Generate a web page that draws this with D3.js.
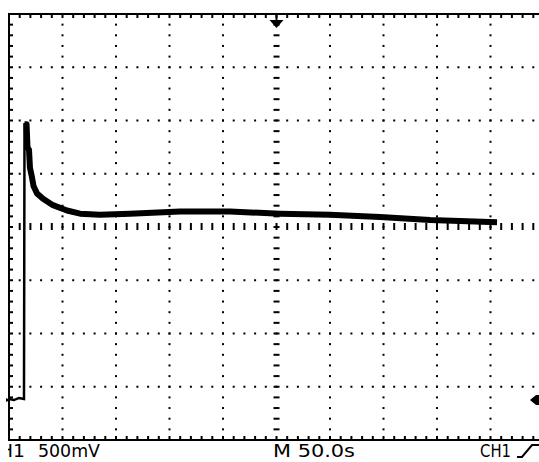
<!DOCTYPE html>
<html>
<head>
<meta charset="utf-8">
<script src="https://cdn.jsdelivr.net/npm/d3@7"></script>
<style>
html,body{margin:0;padding:0;background:#fff;}
svg{display:block;}
text{font-family:"DejaVu Sans Condensed","DejaVu Sans",sans-serif;fill:#000;}
</style>
</head>
<body>
<svg id="chart" width="539" height="462"></svg>
<script>
// ---- data ----
const timeS  = [0, 4.7, 9.3, 14.0, 14.5, 16.4, 17.3, 18.7, 19.6, 21.5, 22.9, 26.2, 31.8, 41.1, 54.2, 66.4, 85.0, 113.1, 159.8, 206.5, 253.3, 300.0, 346.7, 393.5, 456.1];
const ch1V   = [0.01, 0.0, 0.02, 0.01, 2.59, 2.59, 2.37, 2.35, 2.18, 2.09, 2.01, 1.94, 1.89, 1.83, 1.78, 1.75, 1.74, 1.75, 1.77, 1.77, 1.75, 1.74, 1.72, 1.69, 1.67];
const timeDomain = [0, 500];      // 10 div x 50.0 s
const voltDomain = [-0.375, 3.625]; // 8 div x 500 mV
const channelLabel = "CH1";
const voltsLabel = "500mV";
const timeLabel = "M 50.0s";
const triggerLabel = "CH1";
const triggerLevelV = 0.0;
const triggerTimeS = 250;

// ---- layout ----
const svg = d3.select("#chart");
const x = d3.scaleLinear().domain(timeDomain).range([9, 544]);
const y = d3.scaleLinear().domain(voltDomain).range([440, 14]);

const xMajor = d3.range(0, 501, 50);
const xMinor = d3.range(0, 501, 10);
const yMajor = d3.range(0, 9).map(i => voltDomain[0] + i * 0.5);
const yMinor = d3.range(0, 41).map(i => voltDomain[0] + i * 0.1);
const xCenter = 250, yCenter = voltDomain[0] + 2.0;

const g = svg.append("g");

// dotted grid
xMajor.filter(t => t > 0 && t < 500 && t !== xCenter).forEach(t => {
  g.selectAll(null).data(yMinor).enter().append("rect")
    .attr("x", x(t) - 1).attr("y", v => y(v) - 1).attr("width", 2).attr("height", 2).attr("fill", "#000");
});
yMajor.filter((v, i) => i > 0 && i < 8 && i !== 4).forEach(v => {
  g.selectAll(null).data(xMinor).enter().append("rect")
    .attr("x", t => x(t) - 1).attr("y", y(v) - 1).attr("width", 2).attr("height", 2).attr("fill", "#000");
});

// center cross with ticks
g.selectAll(null).data(xMinor.filter(t => t > 0)).enter().append("rect")
  .attr("x", t => x(t) - 1).attr("y", y(yCenter) - 4).attr("width", 2).attr("height", 7).attr("fill", "#000");
g.selectAll(null).data(yMinor.filter((v, i) => i > 0 && i < 40)).enter().append("rect")
  .attr("x", x(xCenter) - 3).attr("y", v => y(v) - 1).attr("width", 6).attr("height", 2).attr("fill", "#000");

// borders
g.append("rect").attr("x", x(0) - 1).attr("y", y(voltDomain[1]) - 1).attr("width", 2).attr("height", y(voltDomain[0]) - y(voltDomain[1]) + 2).attr("fill", "#000");
g.append("rect").attr("x", x(0) - 1).attr("y", y(voltDomain[1]) - 1).attr("width", 545).attr("height", 2).attr("fill", "#000");
g.append("rect").attr("x", x(0) - 1).attr("y", y(voltDomain[0]) - 1).attr("width", 545).attr("height", 2).attr("fill", "#000");
// border ticks
g.selectAll(null).data(xMinor).enter().append("rect")
  .attr("x", t => x(t) - 1).attr("y", y(voltDomain[1])).attr("width", 2).attr("height", 4).attr("fill", "#000");
g.selectAll(null).data(xMinor).enter().append("rect")
  .attr("x", t => x(t) - 1).attr("y", y(voltDomain[0]) - 4).attr("width", 2).attr("height", 4).attr("fill", "#000");
g.selectAll(null).data(yMinor).enter().append("rect")
  .attr("x", x(0)).attr("y", v => y(v) - 1).attr("width", 4).attr("height", 2).attr("fill", "#000");

// trace
const pts = timeS.map((t, i) => [t, ch1V[i]]);
const line = d3.line().x(d => x(d[0])).y(d => y(d[1]));
g.append("path").attr("d", line(pts.slice(0, 6))).attr("fill", "none").attr("stroke", "#000").attr("stroke-width", 2.5);
g.append("path").attr("d", line(pts.slice(4))).attr("fill", "none").attr("stroke", "#000").attr("stroke-width", 6).attr("stroke-linejoin", "round");

// markers
const tx = x(triggerTimeS);
g.append("path").attr("d", `M${tx-7},20 L${tx+7},20 L${tx},28 Z`).attr("fill", "#000");
g.append("rect").attr("x", tx - 1).attr("y", 14).attr("width", 2).attr("height", 8).attr("fill", "#000");
const ly = y(triggerLevelV);
g.append("path").attr("d", `M530,${ly} L536,${ly-5} L539,${ly-5} L539,${ly+5} L536,${ly+5} Z`).attr("fill", "#000");
g.append("path").attr("d", `M6,${ly-2} L10,${ly} L6,${ly+2} Z`).attr("fill", "#000");

// labels
svg.append("clipPath").attr("id", "lc").append("rect").attr("x", 8).attr("y", 440).attr("width", 40).attr("height", 22);
svg.append("text").attr("x", -14).attr("y", 457).attr("font-size", 18).attr("textLength", 39).attr("lengthAdjust", "spacingAndGlyphs")
  .attr("clip-path", "url(#lc)").text(channelLabel);
svg.append("text").attr("x", 38).attr("y", 457).attr("font-size", 18).attr("textLength", 62).attr("lengthAdjust", "spacingAndGlyphs").text(voltsLabel);
svg.append("text").attr("x", 273).attr("y", 457).attr("font-size", 18).attr("textLength", 82).attr("lengthAdjust", "spacingAndGlyphs").text(timeLabel);
svg.append("text").attr("x", 480).attr("y", 457).attr("font-size", 18).attr("textLength", 31).attr("lengthAdjust", "spacingAndGlyphs").text(triggerLabel);
svg.append("path").attr("d", "M517,457 L522,457 L532,445 L539,445").attr("fill", "none").attr("stroke", "#000").attr("stroke-width", 2);
</script>
</body>
</html>
